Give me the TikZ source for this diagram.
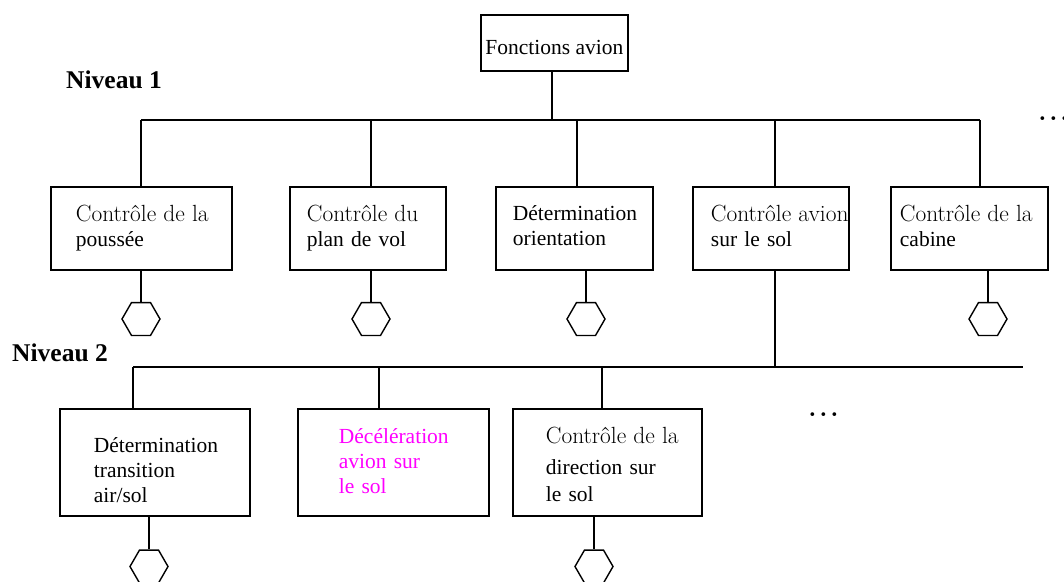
\documentclass[tikz,border=0pt]{standalone}
\usepackage{fontspec}
\setmainfont{Liberation Serif}
\usetikzlibrary{shapes.geometric}
\newcommand\cmline[1]{\mbox{\usefont{TU}{lmr}{m}{n}\fontsize{23.4}{25}\selectfont#1}}
\newcommand\tmline[1]{\mbox{#1}}
\newcommand\mydots{\usefont{TU}{lmr}{b}{n}\fontsize{24}{28}\selectfont.\kern4.3pt.\kern4.3pt.}
\definecolor{mag}{RGB}{255,0,255}
\begin{document}
\begin{tikzpicture}[x=1pt,y=-1pt,
  box/.style={draw, line width=1.8pt, anchor=north west, align=left, inner ysep=0pt,
    font=\fontsize{21.5}{25}\selectfont},
  topbox/.style={draw, line width=1.8pt, anchor=north west, inner ysep=0pt, inner xsep=4pt,
    font=\fontsize{21.5}{25}\selectfont},
  hex/.style={draw, regular polygon, regular polygon sides=6, minimum size=38pt,
    inner sep=0pt, line width=1.4pt},
  link/.style={line width=1.8pt},
  lvl/.style={anchor=base west, inner sep=0pt, font=\fontsize{25.5}{28}\selectfont\bfseries},
  dotsnode/.style={anchor=base west, inner sep=0pt}]
\clip (0,0) rectangle (1064,581);
\fill[white] (0,0) rectangle (1064,581);

% top
\node[topbox, minimum width=147pt, minimum height=56pt, text height=24pt, text depth=0pt] (top) at (480,14) {Fonctions avion};
\node[lvl] (n1) at (66,88) {Niveau 1};
\node[lvl] (n2) at (12,361) {Niveau 2};
\node[dotsnode] (d1) at (1039,120) {\mydots};
\node[dotsnode] (d2) at (809,416) {\mydots};

% level 1 boxes
\node[box, minimum width=181pt, minimum height=83pt, text width=131pt, inner xsep=25pt, text depth=31pt] (b1) at (50,186) {\cmline{Contrôle de la}\\\tmline{poussée}};
\node[box, minimum width=156pt, minimum height=83pt, text width=122pt, inner xsep=17pt, text depth=31pt] (b2) at (289,186) {\cmline{Contrôle du}\\\tmline{plan de vol}};
\node[box, minimum width=157pt, minimum height=83pt, text width=123pt, inner xsep=17pt, text depth=31pt] (b3) at (495,186) {\tmline{Détermination}\\\tmline{orientation}};
\node[box, minimum width=156pt, minimum height=83pt, text width=120pt, inner xsep=18pt, text depth=31pt] (b4) at (692,186) {\cmline{Contrôle avion}\\\tmline{sur le sol}};
\node[box, minimum width=157pt, minimum height=83pt, text width=139pt, inner xsep=9pt, text depth=31pt] (b5) at (890,186) {\cmline{Contrôle de la}\\\tmline{cabine}};

% level 2 boxes
\node[box, minimum width=190pt, minimum height=107pt, text width=122pt, inner xsep=34pt, text depth=35pt] (c1) at (59,408) {\tmline{Détermination}\\\tmline{transition}\\\tmline{air/sol}};
\node[box, minimum width=191pt, minimum height=107pt, text width=109pt, inner xsep=41pt, text=mag, text depth=53pt] (c2) at (297,408) {\tmline{Décélération}\\\tmline{avion sur}\\\tmline{le sol}};
\node[box, minimum width=189pt, minimum height=107pt, text width=123pt, inner xsep=33pt, text depth=54pt] (c3) at (512,408) {\cmline{Contrôle de la}\\[6pt]\tmline{direction sur}\\[2pt]\tmline{le sol}};

% hexagons
\node[hex] (h1) at (141,319) {};
\node[hex] (h2) at (371,319) {};
\node[hex] (h3) at (586,319) {};
\node[hex] (h5) at (988,319) {};
\node[hex] (k1) at (149,566.5) {};
\node[hex] (k3) at (594,566.5) {};

% level 1 bus
\coordinate (t0) at (552,120);
\coordinate (t1) at (141,120);
\coordinate (t2) at (371,120);
\coordinate (t3) at (577,120);
\coordinate (t4) at (775,120);
\coordinate (t5) at (980,120);
\draw[link] (top.south -| t0) -- (t0);
\draw[link] (t1) -- (t5);
\draw[link] (t1) -- (t1 |- b1.north);
\draw[link] (t2) -- (t2 |- b2.north);
\draw[link] (t3) -- (t3 |- b3.north);
\draw[link] (t4) -- (t4 |- b4.north);
\draw[link] (t5) -- (t5 |- b5.north);

% level 1 hexagon links
\draw[link] (h1.north |- b1.south) -- (h1.north);
\draw[link] (h2.north |- b2.south) -- (h2.north);
\draw[link] (h3.north |- b3.south) -- (h3.north);
\draw[link] (h5.north |- b5.south) -- (h5.north);

% level 2 bus
\coordinate (u0) at (775,367);
\coordinate (u1) at (133,367);
\coordinate (u2) at (379,367);
\coordinate (u3) at (602,367);
\coordinate (uR) at (1023,367);
\draw[link] (u0 |- b4.south) -- (u0);
\draw[link] (u1) -- (uR);
\draw[link] (u1) -- (u1 |- c1.north);
\draw[link] (u2) -- (u2 |- c2.north);
\draw[link] (u3) -- (u3 |- c3.north);

% level 2 hexagon links
\draw[link] (k1.north |- c1.south) -- (k1.north);
\draw[link] (k3.north |- c3.south) -- (k3.north);
\end{tikzpicture}
\end{document}
